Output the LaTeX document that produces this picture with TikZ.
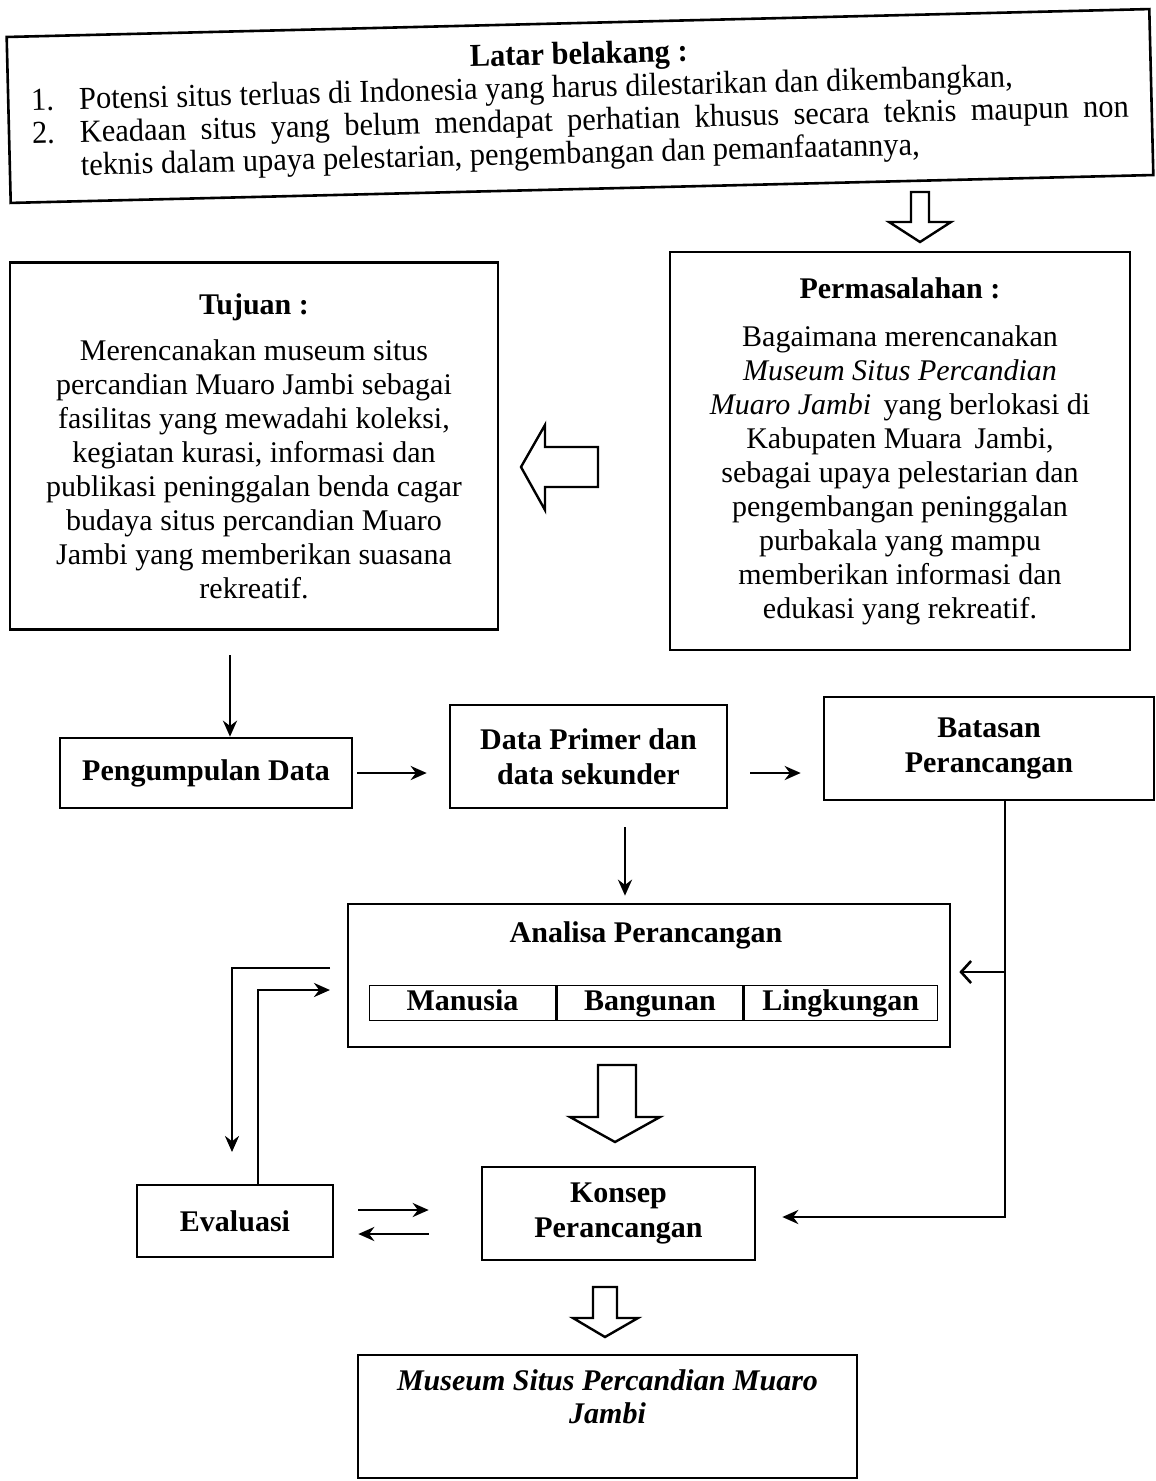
\documentclass[tikz,border=0pt]{standalone}
\usepackage{fontspec}
\setmainfont{Liberation Serif}
\newfontfamily\narrowfont[FakeStretch=0.95]{Liberation Serif}
\usetikzlibrary{arrows.meta,positioning,calc}

\begin{document}
\begin{tikzpicture}[x=1pt,y=-1pt,
    box/.style={draw, line width=2.6pt, inner sep=0pt, align=center,
        font=\fontsize{30}{34}\selectfont},
    bbox/.style={box, font=\fontsize{30}{35}\selectfont\bfseries},
    cell/.style={draw, line width=1.4pt, minimum width=186pt, minimum height=35pt,
        inner sep=0pt, text height=20pt, text depth=6pt, font=\fontsize{30}{30}\selectfont\bfseries},
    conn/.style={-{Stealth[length=16pt,width=14pt]}, line width=2.8pt},
    fat/.style={draw, line width=2.4pt, fill=white, line join=miter}
]
\useasboundingbox (0,0) rectangle (1156,1481);

% latar belakang
\node[box, rotate=1.4, minimum width=1143pt, minimum height=166pt] (latar) at (580,106)
    {\parbox{1097pt}{\narrowfont\fontsize{32}{33}\selectfont\hyphenpenalty=10000
    {\centering\bfseries Latar belakang :\par}
    \hangindent=48pt\hangafter=1\noindent\makebox[48pt][l]{1.}Potensi situs terluas di Indonesia yang harus dilestarikan dan dikembangkan,\par
    \hangindent=48pt\hangafter=1\noindent\makebox[48pt][l]{2.}Keadaan situs yang belum mendapat perhatian khusus secara teknis maupun non\linebreak teknis dalam upaya pelestarian, pengembangan dan pemanfaatannya,\par}};

% tujuan & permasalahan
\node[box, minimum width=488pt, minimum height=367pt] (tujuan) at (254,446)
    {\textbf{Tujuan :}\\[12pt]
    Merencanakan museum situs\\
    percandian Muaro Jambi sebagai\\
    fasilitas yang mewadahi koleksi,\\
    kegiatan kurasi, informasi dan\\
    publikasi peninggalan benda cagar\\
    budaya situs percandian Muaro\\
    Jambi yang memberikan suasana\\
    rekreatif.};
\node[box, minimum width=460pt, minimum height=398pt] (masalah) at (900,451)
    {\textbf{Permasalahan :}\\[14pt]
    Bagaimana merencanakan\\
    \textit{Museum Situs Percandian}\\
    \textit{Muaro Jambi}\, yang berlokasi di\\
    Kabupaten Muara\, Jambi,\\
    sebagai upaya pelestarian dan\\
    pengembangan peninggalan\\
    purbakala yang mampu\\
    memberikan informasi dan\\
    edukasi yang rekreatif.};

% baris data
\node[bbox, minimum width=292pt, minimum height=70pt] (kumpul) at (206,773) {Pengumpulan Data};
\node[bbox, minimum width=277pt, minimum height=103pt] (data) at (588.5,756.5) {Data Primer dan\\data sekunder};
\node[bbox, minimum width=330pt, minimum height=103pt] (batasan) at (989,748.5) {Batasan\\Perancangan};

% analisa
\node[box, minimum width=602pt, minimum height=143pt] (analisa) at (649,975.5) {};
\node[font=\fontsize{30}{34}\selectfont\bfseries] (analisatitle) at (646,935) {Analisa Perancangan};
\node[cell] (manusia) at (462.5,1003) {Manusia};
\node[cell, right=0pt of manusia] (bangunan) {Bangunan};
\node[cell, minimum width=193pt, right=0pt of bangunan] (lingkungan) {Lingkungan};

% konsep, evaluasi, hasil
\node[bbox, minimum width=273pt, minimum height=93pt] (konsep) at (618.5,1213.5) {Konsep\\Perancangan};
\node[bbox, minimum width=196pt, minimum height=72pt] (evaluasi) at (235,1221) {Evaluasi};
\node[box, minimum width=499pt, minimum height=123pt] (museum) at (607.5,1416.5) {};
\node[font=\fontsize{30}{33}\selectfont\bfseries\itshape, align=center, below=12pt of museum.north] (museumtxt)
    {Museum Situs Percandian Muaro\\Jambi};

% panah blok
\draw[fat] (911,192) -- (929,192) -- (929,222) -- (951,222) -- (920,242) -- (889,222) -- (911,222) -- cycle;
\draw[fat] (598,447) -- (545,447) -- (545,425) -- (521,467) -- (545,510) -- (545,487) -- (598,487) -- cycle;
\draw[fat] (598,1065) -- (636,1065) -- (636,1117) -- (660,1117) -- (615,1142) -- (570,1117) -- (598,1117) -- cycle;
\draw[fat] (593,1287) -- (617,1287) -- (617,1318) -- (638,1318) -- (605,1337) -- (573,1318) -- (593,1318) -- cycle;

% panah
\coordinate (tujuanout) at (230,655);
\draw[conn] (tujuanout) -- (tujuanout |- kumpul.north);
\draw[conn] ([xshift=4pt]kumpul.east) -- ([xshift=-22pt]data.west |- kumpul.east);
\draw[conn] ([xshift=22pt]data.east |- kumpul.east) -- ([xshift=-22pt]batasan.west |- kumpul.east);
\draw[conn] ([yshift=-18pt]data.south -| 625,0) -- ([yshift=7pt]analisa.north -| 625,0);
\coordinate (turun) at (1005,972);
\draw[line width=2.6pt] (batasan.south -| turun) -- (1005,1217) -- ([xshift=28pt]konsep.east |- 0,1217);
\draw[conn] (1005,1217) -- ([xshift=26pt]konsep.east |- 0,1217);
\draw[-{Straight Barb[length=10pt,width=22pt]}, line width=2.6pt] (turun) -- ([xshift=8pt]analisa.east |- turun);
\coordinate (keluar) at (330,968);
\coordinate (masuk) at (330,990);
\draw[conn] (keluar) -- (232,968) -- (232,1152);
\draw[conn] (evaluasi.north -| 258,0) -- (258,990) -- (masuk);
\draw[conn] ([xshift=24pt]evaluasi.east |- 0,1210) -- ([xshift=-52pt]konsep.west |- 0,1210);
\draw[conn] ([xshift=-52pt]konsep.west |- 0,1234) -- ([xshift=24pt]evaluasi.east |- 0,1234);
\end{tikzpicture}
\end{document}
